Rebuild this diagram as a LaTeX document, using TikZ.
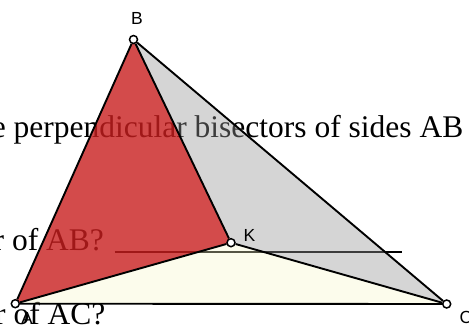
\documentclass[tikz,border=0pt]{standalone}
\usepackage{fontspec}
\setmainfont{Liberation Serif}
\newfontfamily\labelfont{Liberation Sans}
\definecolor{triRed}{RGB}{200,30,30}
\definecolor{triGray}{RGB}{150,150,150}
\definecolor{triYellow}{RGB}{245,245,200}
\begin{document}
\begin{tikzpicture}[x=1pt,y=-1pt,
  vertex/.style={circle, draw, fill=white, line width=1.5pt, inner sep=0pt, minimum size=8pt},
  vlabel/.style={font=\labelfont\fontsize{17.5}{17.5}\selectfont, inner sep=0pt},
  qtext/.style={font=\fontsize{31.5}{31.5}\selectfont, inner sep=0pt},
  side/.style={line width=1.9pt}]
\useasboundingbox (0,0) rectangle (469,327);
\clip (0,0) rectangle (469,327);

% question text behind the triangle
\node[qtext, anchor=base east] (q1) at (463.5,137) {e perpendicular bisectors of sides AB};
\node[qtext, anchor=base west] (q2) at (-6.5,250.5) {r of AB? \hspace{3pt}\rule[-2pt]{287pt}{1.3pt}};
\node[qtext, anchor=base west] (q3) at (-5,324.5) {r of AC?};

\coordinate (pA) at (15.3,303.7);
\coordinate (pB) at (133.5,39.5);
\coordinate (pC) at (446.7,304);
\coordinate (pK) at (231,242.7);

\fill[triYellow, fill opacity=0.35] (pA) -- (pK) -- (pC) -- cycle;
\fill[triRed, fill opacity=0.8] (pA) -- (pB) -- (pK) -- cycle;
\fill[triGray, fill opacity=0.4] (pB) -- (pC) -- (pK) -- cycle;

\node[vertex] (A) at (pA) {};
\node[vertex] (B) at (pB) {};
\node[vertex] (C) at (pC) {};
\node[vertex] (K) at (pK) {};

\draw[side] (A) -- (B) -- (C) -- (A);
\draw[side] (A) -- (K) -- (C);
\draw[side] (B) -- (K);

\node[vlabel] (labA) at (27,318.5) {A};
\node[vlabel] (labB) at (137,18) {B};
\node[vlabel] (labC) at (466,317.5) {C};
\node[vlabel] (labK) at (249.5,235.5) {K};
\end{tikzpicture}
\end{document}
